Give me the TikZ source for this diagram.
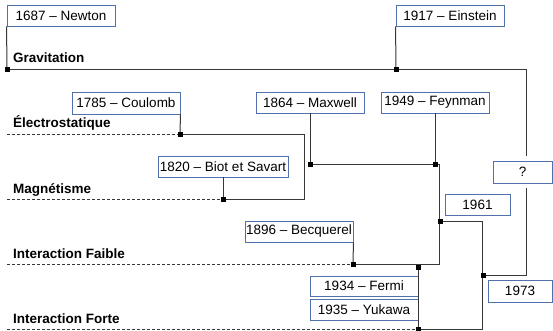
\documentclass[tikz,border=0pt]{standalone}
\usepackage{fontspec}
\setmainfont{Liberation Sans}
\definecolor{boxblue}{RGB}{79,114,172}
\definecolor{linec}{RGB}{55,55,55}
\begin{document}
\begin{tikzpicture}[x=1pt,y=-1pt,
  evt/.style={draw=boxblue, line width=0.9pt, fill=white, inner sep=0pt, font=\fontsize{13.5}{15}\selectfont},
  lbl/.style={anchor=base west, font=\fontsize{13.5}{15}\selectfont\bfseries, inner sep=0pt},
  conn/.style={draw=linec, line width=1pt},
  dsh/.style={conn, dash pattern=on 3pt off 2pt},
  dot/.style={fill=black, minimum size=5pt, inner sep=0pt, rectangle}
]
\useasboundingbox[fill=white] (0,0) rectangle (553,331);

% event boxes
\node[evt, minimum width=108pt, minimum height=21pt] (newton)   at (61,15.5)   {1687 – Newton};
\node[evt, minimum width=108pt, minimum height=21pt] (einstein) at (450,15.5)  {1917 – Einstein};
\node[evt, minimum width=108pt, minimum height=22pt] (coulomb)  at (126,103)   {1785 – Coulomb};
\node[evt, minimum width=108pt, minimum height=21pt] (maxwell)  at (310,102.5) {1864 – Maxwell};
\node[evt, minimum width=108pt, minimum height=21pt] (feynman)  at (435,102.5) {1949 – Feynman};
\node[evt, minimum width=130pt, minimum height=21pt] (biot)     at (223,166.5) {1820 – Biot et Savart};
\node[evt, minimum width=108pt, minimum height=21pt] (becq)     at (299,231.5) {1896 – Becquerel};
\node[evt, minimum width=108pt, minimum height=20pt] (fermi)    at (364,286)   {1934 – Fermi};
\node[evt, minimum width=108pt, minimum height=21pt] (yukawa)   at (364,309.5) {1935 – Yukawa};
\node[evt, minimum width=65pt,  minimum height=21pt] (y61)      at (477.5,204.5) {1961};
\node[evt, minimum width=59pt,  minimum height=22pt] (q)        at (522.5,172) {?};
\node[evt, minimum width=64pt,  minimum height=22pt] (y73)      at (520,291)   {1973};

% row labels
\node[lbl] (lgrav)  at (13,63)  {Gravitation};
\node[lbl] (lelec)  at (13,128) {Électrostatique};
\node[lbl] (lmagn)  at (13,193) {Magnétisme};
\node[lbl] (lfaib)  at (13,258) {Interaction Faible};
\node[lbl] (lfort)  at (13,323) {Interaction Forte};

% junctions and corners
\coordinate (nN)  at (7,70);
\coordinate (nE)  at (396,70);
\coordinate (eL)  at (7,135);
\coordinate (nC)  at (180,135);
\coordinate (cB)  at (304,199);
\coordinate (mL)  at (7,199);
\coordinate (nB)  at (223,199);
\coordinate (nM)  at (310,164);
\coordinate (nF)  at (435,164);
\coordinate (c1)  at (439,164);
\coordinate (c2)  at (439,264);
\coordinate (fL)  at (7,264);
\coordinate (nBq) at (353,264);
\coordinate (n34) at (418,267);
\coordinate (sL)  at (7,329);
\coordinate (n35) at (418,329);
\coordinate (n61) at (440,221);
\coordinate (c3)  at (482,329);
\coordinate (n73) at (483,275);

% connectors
\draw[conn] (newton.south west) -- (nN);
\draw[conn] (einstein.south west) -- (nE);
\draw[conn] (nN) -| ([xshift=3.5pt,yshift=5pt]q.north);
\draw[conn] (coulomb.south east) -- (nC);
\draw[dsh] (eL) -- (nC);
\draw[conn] (nC) -| (cB) -- (nB);
\draw[conn] (biot.south) -- (nB);
\draw[dsh] (mL) -- (nB);
\draw[conn] (maxwell.south) -- (nM);
\draw[conn] (feynman.south) -- (nF);
\draw[conn] (nM) -- (c1) -- (c2) -- (nBq);
\draw[conn] (becq.south east) -- (nBq);
\draw[dsh] (fL) -- (nBq);
\draw[conn] (n34) -- (n35);
\draw[dsh] (sL) -- (n35);
\draw[conn] (n61) -| (c3) -- (n35);
\draw[conn] (n73) -| ([xshift=3.5pt,yshift=-5pt]q.south);

% junction dots
\foreach \p in {nN,nE,nC,nB,nM,nF,nBq,n34,n35,n61,n73}
  \node[dot] at (\p) {};
\end{tikzpicture}
\end{document}
